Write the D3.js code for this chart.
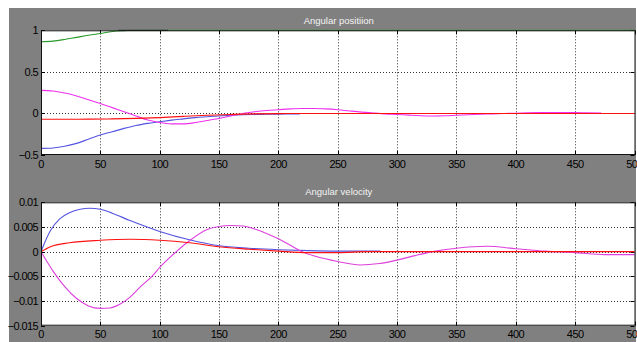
<!DOCTYPE html>
<html><head><meta charset="utf-8">
<script src="https://cdn.jsdelivr.net/npm/d3@7"></script>
<style>html,body{margin:0;padding:0;background:#fff;}svg{display:block;}</style>
</head><body>
<script>
// ---------- data ----------
const xTicks = [0,50,100,150,200,250,300,350,400,450,500];
const posTicks = [-0.5,0,0.5,1];
const velTicks = [-0.015,-0.01,-0.005,0,0.005,0.01];
const titles = ["Angular positiion","Angular velocity"];

// Angular position
const posGreenT = [0,10,20,30,40,50,60,70,80,500];
const posGreenV = [0.862,0.87,0.89,0.915,0.94,0.962,0.985,0.995,1,1];
const posBlackT = [65,107];
const posBlackV = [1,1];
const posBlueT = [0,10,20,30,40,50,60,70,80,90,100,110,120,130,140,150,160,170,180,190,200,210,218];
const posBlueV = [-0.42,-0.415,-0.395,-0.36,-0.31,-0.26,-0.22,-0.18,-0.145,-0.12,-0.1,-0.08,-0.065,-0.05,-0.04,-0.03,-0.022,-0.016,-0.012,-0.01,-0.008,-0.006,-0.005];
const posMagT = [0,10,20,30,40,50,60,70,80,90,100,110,120,130,140,150,160,170,180,190,200,210,220,230,240,250,260,270,280,290,300,310,320,330,340,350,360,370,380,390,400,410,420,430,440,450,460,472];
const posMagV = [0.277,0.27,0.245,0.21,0.165,0.12,0.07,0.02,-0.03,-0.08,-0.11,-0.125,-0.125,-0.11,-0.085,-0.06,-0.03,0.0,0.02,0.035,0.045,0.055,0.06,0.06,0.055,0.045,0.03,0.016,0.005,-0.005,-0.012,-0.02,-0.027,-0.03,-0.028,-0.022,-0.016,-0.01,-0.005,0,0.003,0.008,0.01,0.01,0.01,0.01,0.008,0.006];
const posRedT = [0,20,40,60,80,100,120,140,160,180,200,220,500];
const posRedV = [-0.07,-0.07,-0.069,-0.066,-0.06,-0.05,-0.035,-0.022,-0.012,-0.005,-0.002,0,0];

// Angular velocity
const velBlueT = [0,2,8,16,24,33,41,50,60,75,100,125,150,175,200,225,250,286];
const velBlueV = [0,0.0012,0.0043,0.0067,0.0079,0.0086,0.0088,0.0086,0.0078,0.0063,0.0041,0.0024,0.0012,0.0007,0.0004,0.0002,0.0001,0.0001];
const velRedT = [0,8,24,50,75,100,125,150,175,200,225,250,275,500];
const velRedV = [0,0.001,0.0018,0.0023,0.0025,0.0023,0.0018,0.001,0.0005,0.0001,-0.0002,-0.0002,0,0];
const velMagT = [0,5,10,20,30,40,50,58,66,75,83,95,100,114,125,140,150,160,170,180,190,200,210,220,232,250,269,285,300,315,330,350,376,400,425,450,475,500];
const velMagV = [0,-0.002,-0.0039,-0.0071,-0.0095,-0.011,-0.0115,-0.0114,-0.0107,-0.0092,-0.0073,-0.0046,-0.0032,0,0.0022,0.0045,0.0051,0.0053,0.0052,0.0046,0.0037,0.0026,0.0013,0,-0.001,-0.002,-0.0027,-0.0024,-0.0017,-0.0008,0,0.0007,0.0011,0.0006,0.0001,-0.0002,-0.0006,-0.0006];

// ---------- drawing ----------
const W = 637, H = 342;
const svg = d3.select("body").append("svg").attr("width", W).attr("height", H);
svg.append("rect").attr("x",9).attr("y",8).attr("width",627).attr("height",H-8).attr("fill","#808080");

const x = d3.scaleLinear().domain([0,500]).range([41,634.5]);
const panels = [
  {title: titles[0], titleY: 23.5, domain:[-0.5,1], range:[155,30.3], ticks:posTicks, fmt:d=>d3.format("")(d), labelY:168,
   series:[
     {t:posGreenT, v:posGreenV, c:"#2a9a2a"},
     {t:posBlackT, v:posBlackV, c:"#1a1a1a"},
     {t:posBlueT, v:posBlueV, c:"#5454e0"},
     {t:posMagT, v:posMagV, c:"#ee30ee"},
     {t:posRedT, v:posRedV, c:"#ff1010"}
   ]},
  {title: titles[1], titleY: 195, domain:[-0.015,0.01], range:[325.7,202.3], ticks:velTicks, fmt:d=>d3.format("")(+d.toFixed(3)), labelY:338,
   series:[
     {t:velBlueT, v:velBlueV, c:"#5454e0"},
     {t:velMagT, v:velMagV, c:"#dd40dd"},
     {t:velRedT, v:velRedV, c:"#ff1010"}
   ]}
];

panels.forEach(p => {
  const y = d3.scaleLinear().domain(p.domain).range(p.range);
  const x0 = x.range()[0], x1 = x.range()[1], yTop = p.range[1], yBot = p.range[0];
  const g = svg.append("g");
  g.append("text").attr("x",(x0+x1)/2+1).attr("y",p.titleY).attr("text-anchor","middle")
    .attr("font-family","Liberation Sans, Arial, sans-serif").attr("font-size",9.5).attr("fill","#f4f4f4").text(p.title);
  g.append("rect").attr("x",x0).attr("y",yTop).attr("width",x1-x0+1).attr("height",yBot-yTop).attr("fill","#fff");
  // grid
  xTicks.slice(1,-1).forEach(t => {
    g.append("line").attr("x1",Math.round(x(t))+0.5).attr("x2",Math.round(x(t))+0.5).attr("y1",yTop).attr("y2",yBot)
      .attr("stroke","#333").attr("stroke-dasharray","1,2");
  });
  p.ticks.slice(1,-1).forEach(v => {
    g.append("line").attr("x1",x0).attr("x2",x1).attr("y1",Math.round(y(v))+0.5).attr("y2",Math.round(y(v))+0.5)
      .attr("stroke","#333").attr("stroke-dasharray","1,2");
  });
  // tick marks (inward)
  xTicks.forEach(t => {
    const xx = Math.round(x(t))+0.5;
    g.append("line").attr("x1",xx).attr("x2",xx).attr("y1",yBot).attr("y2",yBot-4).attr("stroke","#000");
    g.append("line").attr("x1",xx).attr("x2",xx).attr("y1",yTop).attr("y2",yTop+4).attr("stroke","#000");
  });
  p.ticks.forEach(v => {
    const yy = Math.round(y(v))+0.5;
    g.append("line").attr("x1",x0).attr("x2",x0+4).attr("y1",yy).attr("y2",yy).attr("stroke","#000");
    g.append("line").attr("x1",x1).attr("x2",x1-4).attr("y1",yy).attr("y2",yy).attr("stroke","#000");
  });
  // series
  const clipId = "clip"+Math.round(p.titleY);
  svg.append("clipPath").attr("id",clipId).append("rect").attr("x",x0).attr("y",yTop-1).attr("width",x1-x0+1).attr("height",yBot-yTop+1);
  const line = d3.line().x(d=>x(d[0])).y(d=>y(d[1])).curve(d3.curveMonotoneX);
  p.series.forEach(s => {
    const pts = s.t.map((t,i)=>[t,s.v[i]]);
    g.append("path").attr("d",line(pts)).attr("fill","none").attr("stroke",s.c).attr("stroke-width",1.1)
      .attr("clip-path","url(#"+clipId+")");
  });
  // frame
  g.append("rect").attr("x",x0+0.5).attr("y",yTop+0.5).attr("width",x1-x0).attr("height",yBot-yTop-1)
    .attr("fill","none").attr("stroke","#111").attr("stroke-width",1);
  // labels
  xTicks.forEach(t => {
    g.append("text").attr("x",x(t)).attr("y",p.labelY).attr("text-anchor","middle")
      .attr("font-family","Liberation Sans, Arial, sans-serif").attr("font-size",11).attr("letter-spacing",-0.6)
      .attr("fill","#000").text(t);
  });
  p.ticks.forEach(v => {
    g.append("text").attr("x",38).attr("y",y(v)+4).attr("text-anchor","end")
      .attr("font-family","Liberation Sans, Arial, sans-serif").attr("font-size",11).attr("letter-spacing",-0.6)
      .attr("fill","#000").text(p.fmt(v));
  });
});
</script>
</body></html>
